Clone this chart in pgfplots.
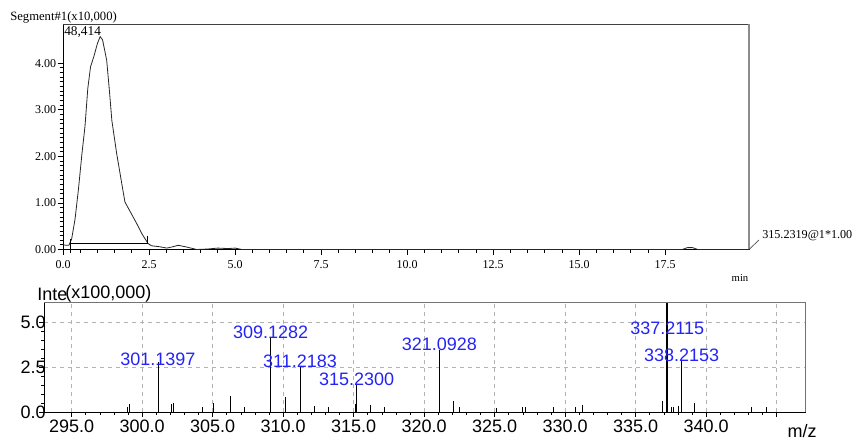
\documentclass[border=0pt]{standalone}
\usepackage{fontspec}
\setmainfont{Liberation Serif}
\newfontfamily\arial{Liberation Sans}
\usepackage{pgfplots}
\pgfplotsset{compat=1.18}
\definecolor{lblue}{RGB}{35,35,245}
\begin{document}
\begin{tikzpicture}
\useasboundingbox (0,0) rectangle (643.5pt,330.75pt);
% ---------- chromatogram ----------
\begin{axis}[
 at={(47.25pt,143.625pt)}, anchor=south west,
 scale only axis, width=514.5pt, height=169.125pt,
 xmin=0, xmax=19.94, ymin=0, ymax=4.84,
 clip=false,
 xtick={0,2.5,...,17.5}, minor x tick num=4,
 ytick={0,1,2,3,4}, minor y tick num=9,
 tick align=outside, xtick pos=left, ytick pos=left,
 major tick length=4pt, minor tick length=2.5pt,
 tick style={black, line width=0.5pt},
 /pgf/number format/assume math mode=true,
 ticklabel style={font=\fontsize{9}{10}\selectfont},
 xticklabel style={yshift=-1pt, /pgf/number format/.cd, fixed, fixed zerofill, precision=1},
 yticklabel style={inner sep=1pt, /pgf/number format/.cd, fixed, fixed zerofill, precision=2},
 axis line style={line width=0.6pt},
]
\addplot[black!85, line width=0.6pt] coordinates {
(0,0.10) (0.1,0.09) (0.17,0.09) (0.25,0.22) (0.35,0.65) (0.45,1.3) (0.55,2.05) (0.64,2.65) (0.72,3.45) (0.8,3.92) (0.9,4.15) (1.0,4.42) (1.08,4.57) (1.15,4.5) (1.27,4.06) (1.35,3.4) (1.42,2.77) (1.56,2.06) (1.7,1.45) (1.8,1.02) (2.0,0.75) (2.14,0.56) (2.3,0.33) (2.47,0.13) (2.57,0.08) (2.8,0.06) (3.02,0.03) (3.2,0.06) (3.35,0.09) (3.55,0.06) (3.89,0.0) (4.2,0.01) (4.5,0.03) (4.8,0.02) (5.0,0.03) (5.2,0.0) (18.0,0) (18.15,0.04) (18.3,0.04) (18.45,0) (19.94,0)};
\addplot[black, line width=0.5pt] coordinates {(0.22,0.13) (2.46,0.13)};
\addplot[black, line width=0.5pt] coordinates {(0.22,0.22) (0.22,-0.08)};
\addplot[black, line width=0.5pt] coordinates {(2.46,0.3) (2.46,0.11)};
\draw[black!75, line width=0.7pt] (rel axis cs:0,1) -- (rel axis cs:1,1);
\draw[black!45, line width=1.2pt] (rel axis cs:1,0) -- (rel axis cs:1,1);
\end{axis}
\node[anchor=west, font=\fontsize{9.5}{10}\selectfont, inner sep=0pt] at (7.5pt,318pt) {Segment\#1(x10,000)};
\node[anchor=west, font=\fontsize{10}{11}\selectfont, inner sep=0pt] at (48pt,307pt) {48,414};
\draw[black!70, line width=0.5pt] (561.75pt,143.625pt) -- (569.25pt,150.75pt);
\node[anchor=west, font=\fontsize{9.1}{10}\selectfont, inner sep=0pt] at (571.5pt,153.75pt) {315.2319@1*1.00};
\node[font=\fontsize{8}{9}\selectfont, inner sep=0pt] at (555pt,122.25pt) {min};
% ---------- spectrum ----------
\begin{axis}[
 at={(33pt,21.525pt)}, anchor=south west,
 scale only axis, width=571.3pt, height=82.2pt,
 xmin=293.04, xmax=347.06, ymin=0, ymax=6.07,
 clip=false,
 xtick={295,300,...,345},
 xticklabels={295.0,300.0,305.0,310.0,315.0,320.0,325.0,330.0,335.0,340.0,},
 minor x tick num=4,
 ytick={0,2.5,5}, yticklabels={0.0,2.5,5.0}, minor y tick num=4,
 grid=major, major grid style={dashed, black!30, line width=0.5pt},
 tick align=outside, xtick pos=left, ytick pos=left,
 major tick length=3.5pt, minor tick length=2pt,
 tick style={black, line width=0.5pt},
 ticklabel style={font=\arial\fontsize{13.5}{14}\selectfont},
 xticklabel style={yshift=1pt},
 yticklabel style={anchor=east, inner sep=0pt, xshift=5pt},
 axis line style={line width=0.6pt},
]
\addplot[ycomb, black, line width=0.7pt, no marks] coordinates {
(298.97,0.31) (299.13,0.46) (301.14,2.81) (302.09,0.46) (302.20,0.53) (304.26,0.28) (305.09,0.53) (306.23,0.90) (307.24,0.31) (309.13,4.11) (310.13,0.83) (311.22,2.57) (312.20,0.37) (313.20,0.31) (315.14,0.46) (315.23,1.52) (316.20,0.40) (317.17,0.31) (321.09,3.46) (322.07,0.64) (322.47,0.28) (325.14,0.26) (326.99,0.31) (327.20,0.31) (329.20,0.28) (330.70,0.28) (331.21,0.40) (336.91,0.63) (337.55,0.30) (337.66,0.30) (338.02,0.33) (338.22,2.91) (339.20,0.52) (343.18,0.31) (344.24,0.28)};
\addplot[ycomb, black, line width=1.3pt, no marks] coordinates {(337.21,6.07)};
\draw[black!55, line width=0.6pt] (rel axis cs:0,1) -- (rel axis cs:1,1) -- (rel axis cs:1,0);
\begin{scope}[every node/.style={text=lblue, font=\arial\fontsize{13.5}{14}\selectfont, inner sep=0pt}]
\node at (axis cs:301.12,2.94) {301.1397};
\node at (axis cs:309.11,4.44) {309.1282};
\node at (axis cs:311.19,2.85) {311.2183};
\node at (axis cs:315.21,1.83) {315.2300};
\node at (axis cs:321.08,3.74) {321.0928};
\node at (axis cs:337.24,4.67) {337.2115};
\node at (axis cs:338.26,3.13) {338.2153};
\end{scope}
\end{axis}
\node[anchor=west, font=\arial\fontsize{13.5}{14}\selectfont, inner sep=0pt] at (27.75pt,110.25pt) {Inte};
\node[anchor=west, font=\arial\fontsize{13.5}{14}\selectfont, inner sep=0pt] at (48.75pt,110.25pt) {(x100,000)};
\node[font=\arial\fontsize{13.5}{14}\selectfont, inner sep=0pt] at (601.5pt,7.5pt) {m/z};
\end{tikzpicture}
\end{document}
